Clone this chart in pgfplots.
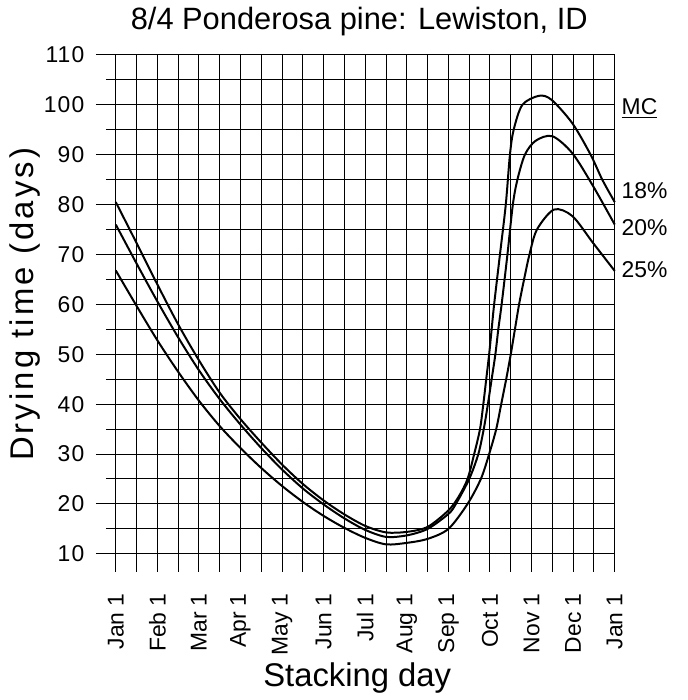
\documentclass[border=0pt]{standalone}
\usepackage{pgfplots}
\pgfplotsset{compat=1.18}
\usepackage{fontspec}
\setmainfont{Liberation Sans}

% drying time (days) vs stacking day (months after Jan 1)
\pgfplotstableread{
m v
0 80.5
0.5 72.3
1 64
1.5 56
2 48.8
2.5 42.3
3 37
3.5 32.3
4 27.9
4.5 24
5 20.7
5.5 17.9
6 15.6
6.5 14.3
7 14.4
7.5 15.4
8 18.7
8.25 21.5
8.46 25
8.62 30
8.76 35
8.84 40
8.91 45
8.98 50
9.04 55
9.1 60
9.24 70
9.38 80
9.48 90
9.57 95
9.78 100
10.18 101.8
10.48 101
10.98 96.3
11.42 90
11.7 85
12 80.5
}\mcA
\pgfplotstableread{
m v
0 76
0.5 68.2
1 60.6
1.5 53.4
2 46.8
2.5 41
3 35.9
3.5 31.2
4 26.9
4.5 23.1
5 19.9
5.5 17.1
6 14.8
6.5 13.4
7 13.7
7.5 15
8 18
8.18 20
8.5 25
8.72 30
8.85 35
8.95 40
9.04 45
9.13 50
9.2 55
9.28 60
9.42 70
9.55 80
9.66 85
9.84 90
10.1 92.8
10.5 93.7
10.98 90.3
11.48 83.7
12 76
}\mcB
\pgfplotstableread{
m v
0 66.8
0.5 59.7
1 52.8
1.5 46.5
2 40.7
2.5 35.6
3 31.2
3.5 27.2
4 23.6
4.5 20.4
5 17.6
5.5 15.2
6 13.2
6.5 11.9
7 12.2
7.5 13
8 15
8.46 20
8.78 25
8.98 30
9.15 35
9.27 40
9.39 45
9.5 50
9.6 55
9.7 60
9.82 65
9.95 70
10.13 75
10.54 79
10.98 77.7
11.48 72.3
12 66.7
}\mcC

\begin{document}
\begin{tikzpicture}
\path (-58bp,-72.5bp) rectangle (286.5bp,277.5bp);
\begin{axis}[
    at={(0,0)}, anchor=south west,
    scale only axis,
    width=250bp, height=250bp,
    xmin=0, xmax=12,
    ymin=10, ymax=110,
    axis line style={line width=0.5bp},
    xtick={0,...,12},
    minor xtick={0.5,1.5,...,11.5},
    xticklabels={Jan 1,Feb 1,Mar 1,Apr 1,May 1,Jun 1,Jul 1,Aug 1,Sep 1,Oct 1,Nov 1,Dec 1,Jan 1},
    ytick={10,20,...,110},
    minor ytick={15,25,...,105},
    xtick pos=bottom, ytick pos=left,
    tick align=outside,
    xtick style={/pgfplots/major tick length=9bp, line width=0.5bp, black},
    minor x tick style={/pgfplots/minor tick length=9bp, line width=0.5bp, black},
    ytick style={/pgfplots/major tick length=10bp, line width=0.5bp, black},
    minor y tick style={/pgfplots/minor tick length=5bp, line width=0.5bp, black},
    grid=both,
    major grid style={line width=0.5bp, black},
    minor grid style={line width=0.5bp, black},
    /pgf/number format/assume math mode=true,
    tick label style={font=\fontsize{11.5}{13}\selectfont\addfontfeatures{LetterSpace=5}},
    xticklabel style={rotate=90, anchor=east, font=\fontsize{11.5}{13}\selectfont},
    xticklabel shift=12bp,
    yticklabel shift=7bp,
    yticklabel style={xshift=-1bp},
    title={8/4 Ponderosa pine: Lewiston, ID},
    title style={font=\fontsize{15.5}{18}\selectfont, at={(axis description cs:0.5,1)}, anchor=base, yshift=6.5bp, xshift=-3bp},
    xlabel={Stacking day},
    ylabel={Drying time (days)},
    xlabel style={font=\fontsize{16.5}{19}\selectfont, at={(axis description cs:0.5,0)}, anchor=base, yshift=-66.5bp, xshift=-4bp},
    ylabel style={font=\fontsize{16.5}{19}\selectfont\addfontfeatures{LetterSpace=9.5}, at={(axis description cs:0,0.5)}, rotate=0, anchor=base, yshift=41bp},
    clip=false,
]
\addplot[black, line width=1bp, smooth] table[x=m, y=v] {\mcA};
\addplot[black, line width=1bp, smooth] table[x=m, y=v] {\mcB};
\addplot[black, line width=1bp, smooth] table[x=m, y=v] {\mcC};
\node[anchor=west, font=\fontsize{11.5}{13}\selectfont] at (axis cs:12,99.2) {\underline{MC}};
\node[anchor=west, font=\fontsize{11.5}{13}\selectfont] at (axis cs:12,82.8) {18\%};
\node[anchor=west, font=\fontsize{11.5}{13}\selectfont] at (axis cs:12,75.4) {20\%};
\node[anchor=west, font=\fontsize{11.5}{13}\selectfont] at (axis cs:12,67) {25\%};
\end{axis}
\end{tikzpicture}
\end{document}
